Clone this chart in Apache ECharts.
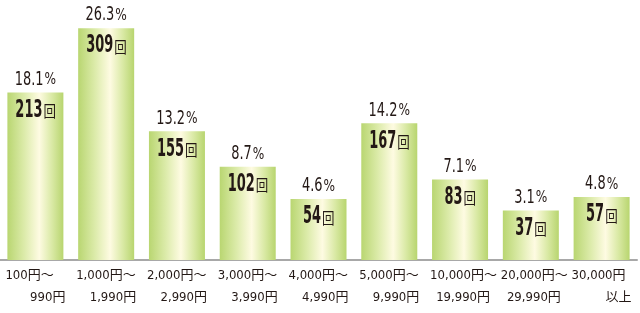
<!DOCTYPE html>
<html>
<head>
<meta charset="utf-8">
<script src="https://cdn.jsdelivr.net/npm/echarts@6/dist/echarts.min.js"></script>
<style>html,body{margin:0;padding:0;background:#fff;}#c{width:640px;height:313px;}</style>
</head>
<body>
<div id="c"></div>
<script>
var catLine1 = ['100円～','1,000円～','2,000円～','3,000円～','4,000円～','5,000円～','10,000円～','20,000円～','30,000円'];
var catLine2 = ['990円','1,990円','2,990円','3,990円','4,990円','9,990円','19,990円','29,990円','以上'];
var counts = [213, 309, 155, 102, 54, 167, 83, 37, 57];
var percents = ['18.1','26.3','13.2','8.7','4.6','14.2','7.1','3.1','4.8'];

var FONT = '"DejaVu Sans Condensed","Noto Sans CJK JP",sans-serif';
var CJK = '"Noto Sans CJK JP",sans-serif';
var TXT = '#231815';
var BAR_W = 56;
var NUM_SCALE = 0.6;
var PCT_SCALE = 0.72;

var categories = catLine1.map(function(a, i){ return a + '\n' + catLine2[i]; });
var seriesData = counts.map(function(v, i){ return [i, v]; });

var mctx = document.createElement('canvas').getContext('2d');
function measure(text, font){ mctx.font = font; return mctx.measureText(text).width; }

var gradient = {
  type: 'linear', x: 0, y: 0, x2: 1, y2: 0,
  colorStops: [
    {offset: 0, color: '#b9d671'},
    {offset: 0.3, color: '#dcebaa'},
    {offset: 0.57, color: '#fefbe2'},
    {offset: 0.8, color: '#d9e9a4'},
    {offset: 1, color: '#b8d56f'}
  ]
};

var chart = echarts.init(document.getElementById('c'), null, {renderer: 'canvas'});
chart.setOption({
  animation: false,
  grid: {left: 0, right: 3, top: 0, bottom: 53},
  xAxis: {
    type: 'category',
    data: categories,
    axisTick: {show: false},
    axisLine: {onZero: false, lineStyle: {color: '#a8a8a8', width: 2}},
    axisLabel: {
      interval: 0,
      margin: 5,
      formatter: function(val){
        var p = val.split('\n');
        return '{a|' + p[0] + '}\n{b|' + p[1] + '}';
      },
      rich: {
        a: {align: 'left', width: 60, fontSize: 13, lineHeight: 22, fontFamily: FONT, color: TXT},
        b: {align: 'right', width: 60, fontSize: 13, lineHeight: 22, fontFamily: FONT, color: TXT}
      }
    }
  },
  yAxis: {type: 'value', min: -37, max: 351, show: false, splitLine: {show: false}},
  series: [{
    type: 'custom',
    data: seriesData,
    encode: {x: 0, y: 1},
    renderItem: function(params, api){
      var idx = api.value(0), v = api.value(1);
      var top = api.coord([idx, v]);
      var cs = params.coordSys;
      var bottom = cs.y + cs.height;
      var di = params.dataIndex;
      var cx = top[0];

      var numStr = String(counts[di]);
      var numFont = 'bold 24px ' + FONT;
      var numW = measure(numStr, numFont) * NUM_SCALE;
      var unitW = 12;
      var nTotal = numW + 1 + unitW;
      var nx = cx - nTotal / 2;

      var pctStr = percents[di];
      var pctFont = '20px ' + FONT;
      var pctSignFont = '15px ' + FONT;
      var pW = measure(pctStr, pctFont) * PCT_SCALE;
      var sW = measure('%', pctSignFont) * 0.9;
      var pTotal = pW + 1 + sW;
      var px = cx - pTotal / 2;

      return {
        type: 'group',
        children: [
          {type: 'rect', shape: {x: cx - BAR_W/2, y: top[1], width: BAR_W, height: bottom - top[1]},
           style: {fill: gradient}},
          {type: 'text', x: px, y: top[1] - 13, scaleX: PCT_SCALE,
           style: {text: pctStr, align: 'left', verticalAlign: 'middle', font: pctFont, fill: TXT}},
          {type: 'text', x: px + pW + 1, y: top[1] - 12, scaleX: 0.9,
           style: {text: '%', align: 'left', verticalAlign: 'middle', font: pctSignFont, fill: TXT}},
          {type: 'text', x: nx, y: top[1] + 18, scaleX: NUM_SCALE,
           style: {text: numStr, align: 'left', verticalAlign: 'middle', font: numFont, fill: TXT}},
          {type: 'text', x: nx + numW + 1, y: top[1] + 18.5, scaleX: 0.78,
           style: {text: '回', align: 'left', verticalAlign: 'middle', font: '16px ' + CJK, fill: TXT}}
        ]
      };
    }
  }]
});
</script>
</body>
</html>
